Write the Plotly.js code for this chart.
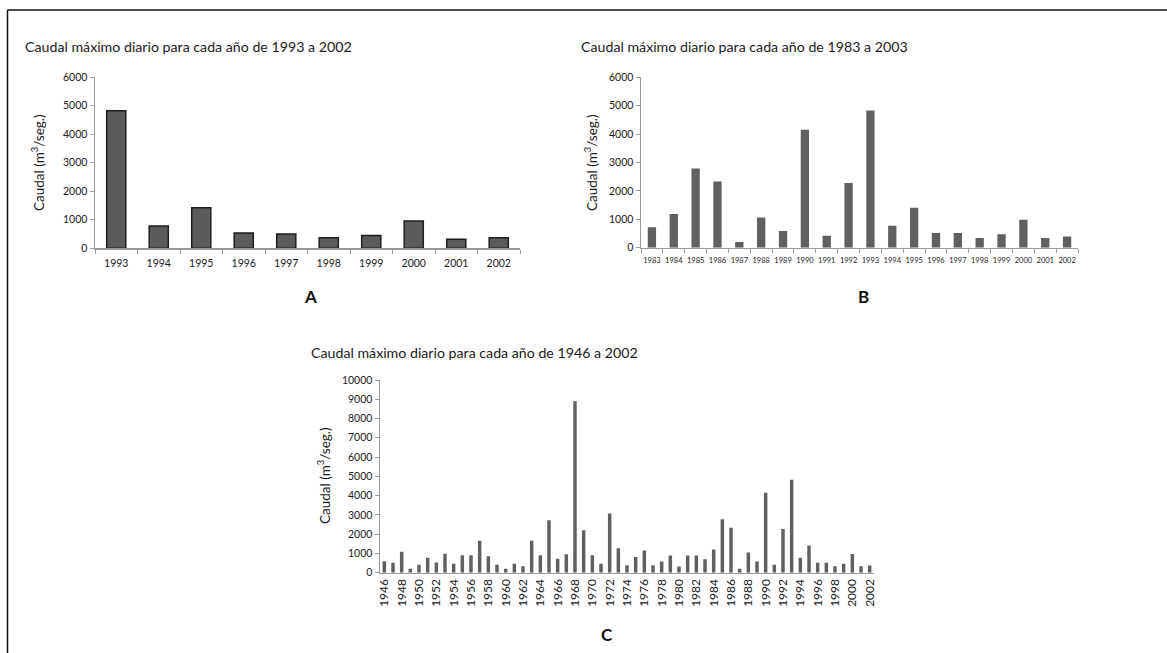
<!DOCTYPE html>
<html>
<head>
<meta charset="utf-8">
<script src="https://cdn.plot.ly/plotly-3.0.1.min.js"></script>
<style>html,body{margin:0;padding:0;background:#fff;}#chart{width:1167px;height:653px;}</style>
</head>
<body>
<div id="chart"></div>
<script>
// Years 1946-2002 and maximum daily discharge (m3/s)
const yearsC = ["1946","1947","1948","1949","1950","1951","1952","1953","1954","1955",
  "1956","1957","1958","1959","1960","1961","1962","1963","1964","1965",
  "1966","1967","1968","1969","1970","1971","1972","1973","1974","1975",
  "1976","1977","1978","1979","1980","1981","1982","1983","1984","1985",
  "1986","1987","1988","1989","1990","1991","1992","1993","1994","1995",
  "1996","1997","1998","1999","2000","2001","2002"];
const valuesC = [600,520,1090,200,410,780,530,980,470,910,
  910,1660,850,410,200,460,340,1660,910,2720,
  720,960,8900,2200,900,460,3070,1270,390,820,
  1150,390,580,890,320,890,890,700,1200,2780,
  2330,200,1050,580,4150,410,2270,4830,770,1410,
  520,520,340,460,970,330,380];

const yearsB = ["1983","1984","1985","1986","1987","1988","1989","1990","1991","1992",
  "1993","1994","1995","1996","1997","1998","1999","2000","2001","2002"];
const valuesB = [720,1190,2790,2330,200,1060,590,4150,420,2280,
  4830,770,1410,520,520,340,470,980,340,390];

const yearsA = ["1993","1994","1995","1996","1997","1998","1999","2000","2001","2002"];
const valuesA = [4830,780,1420,540,500,370,450,960,320,370];

// labelled years on chart C (every second year)
const tickYearsC = yearsC.filter((y, i) => i % 2 === 0);

const W = 1167, H = 653;
const px = v => v / W;
const py = v => 1 - v / H;

const FONT = "Lato, 'Open Sans', sans-serif";
const TXT = "#1a1a1a";
const AX = "#9a9a9a";

const traces = [
  {type: "bar", x: yearsA, y: valuesA, xaxis: "x", yaxis: "y", width: 0.45,
   marker: {color: "#5b5b5b", line: {color: "#1e1e1e", width: 1.5}}},
  {type: "bar", x: yearsB, y: valuesB, xaxis: "x2", yaxis: "y2", width: 0.38,
   marker: {color: "#606060", line: {width: 0}}},
  {type: "bar", x: yearsC, y: valuesC, xaxis: "x3", yaxis: "y3", width: 0.4,
   marker: {color: "#606060", line: {width: 0}}}
];

function xax(domain, anchor, size, extra) {
  return Object.assign({
    type: "category", domain: domain, anchor: anchor,
    showline: true, linecolor: AX, linewidth: 1.5,
    ticks: "outside", tickson: "boundaries", ticklen: 4, tickcolor: AX, tickwidth: 1,
    showgrid: false, zeroline: false, fixedrange: true, tickangle: 0,
    tickfont: {family: FONT, size: size, color: TXT}
  }, extra || {});
}
function yax(domain, anchor, range, dtick, size) {
  return {
    domain: domain, anchor: anchor, range: range, dtick: dtick,
    showline: true, linecolor: AX, linewidth: 1.5,
    ticks: "outside", ticklen: 4, tickcolor: AX, tickwidth: 1,
    showgrid: false, zeroline: false, fixedrange: true,
    tickfont: {family: FONT, size: size, color: TXT}, tickformat: "d"
  };
}

const layout = {
  width: W, height: H,
  margin: {l: 0, r: 0, t: 0, b: 0},
  paper_bgcolor: "#fff", plot_bgcolor: "rgba(0,0,0,0)",
  showlegend: false,
  font: {family: FONT, color: TXT},
  xaxis: xax([px(95), px(520)], "y", 10.5, {ticklabelstandoff: 5}),
  yaxis: yax([py(248.3), py(77.3)], "x", [0, 6000], 1000, 10.5),
  xaxis2: xax([px(641), px(1078)], "y2", 7.5, {ticklabelstandoff: 5}),
  yaxis2: yax([py(247.7), py(77.3)], "x2", [0, 6000], 1000, 10.5),
  xaxis3: xax([px(380), px(874)], "y3", 12, {tickangle: -90, tickmode: "array", tickvals: tickYearsC, ticks: "", categoryorder: "array", categoryarray: yearsC, range: [-0.5, yearsC.length - 0.5]}),
  xaxis4: xax([px(380), px(874)], "y3", 10, {overlaying: "x3", showticklabels: false, showline: false, categoryorder: "array", categoryarray: yearsC, range: [-0.5, yearsC.length - 0.5]}),
  yaxis3: yax([py(572.7), py(380)], "x3", [0, 10000], 1000, 10.5),
  shapes: [
    {type: "line", xref: "paper", yref: "paper", x0: px(7.5), x1: 1, y0: py(10), y1: py(10), line: {color: "#111", width: 1.5}},
    {type: "line", xref: "paper", yref: "paper", x0: px(7.5), x1: px(7.5), y0: py(10), y1: 0, line: {color: "#111", width: 1.5}}
  ],
  annotations: [
    {text: "Caudal máximo diario para cada año de 1993 a 2002", xref: "paper", yref: "paper", x: px(23), y: py(46), xanchor: "left", yanchor: "middle", showarrow: false, font: {family: FONT, size: 14.2, color: TXT}},
    {text: "Caudal máximo diario para cada año de 1983 a 2003", xref: "paper", yref: "paper", x: px(579), y: py(46), xanchor: "left", yanchor: "middle", showarrow: false, font: {family: FONT, size: 14.2, color: TXT}},
    {text: "Caudal máximo diario para cada año de 1946 a 2002", xref: "paper", yref: "paper", x: px(309), y: py(352), xanchor: "left", yanchor: "middle", showarrow: false, font: {family: FONT, size: 14.2, color: TXT}},
    {text: "Caudal (m<sup>3</sup>/seg.)", xref: "paper", yref: "paper", x: px(38), y: py(163), textangle: -90, xanchor: "center", yanchor: "middle", showarrow: false, font: {family: FONT, size: 13.5, color: TXT}},
    {text: "Caudal (m<sup>3</sup>/seg.)", xref: "paper", yref: "paper", x: px(591), y: py(163), textangle: -90, xanchor: "center", yanchor: "middle", showarrow: false, font: {family: FONT, size: 13.5, color: TXT}},
    {text: "Caudal (m<sup>3</sup>/seg.)", xref: "paper", yref: "paper", x: px(324), y: py(476), textangle: -90, xanchor: "center", yanchor: "middle", showarrow: false, font: {family: FONT, size: 13.5, color: TXT}},
    {text: "<b>A</b>", xref: "paper", yref: "paper", x: px(310), y: py(297), xanchor: "center", yanchor: "middle", showarrow: false, font: {family: FONT, size: 17, color: "#111"}},
    {text: "<b>B</b>", xref: "paper", yref: "paper", x: px(863), y: py(297), xanchor: "center", yanchor: "middle", showarrow: false, font: {family: FONT, size: 17, color: "#111"}},
    {text: "<b>C</b>", xref: "paper", yref: "paper", x: px(607), y: py(634), xanchor: "center", yanchor: "middle", showarrow: false, font: {family: FONT, size: 17, color: "#111"}}
  ]
};

Plotly.newPlot("chart", traces, layout, {displayModeBar: false, staticPlot: true});
</script>
</body>
</html>
